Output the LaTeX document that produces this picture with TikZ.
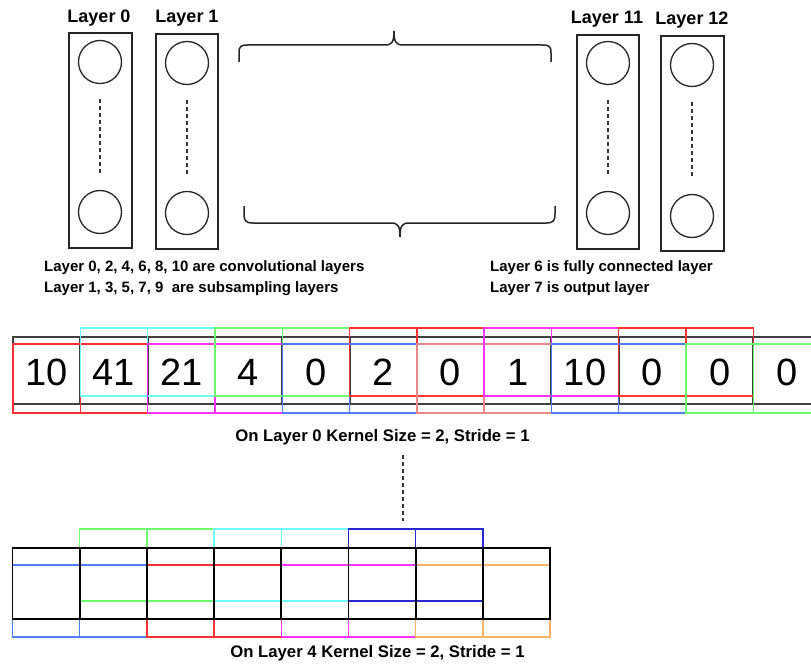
\documentclass[tikz,border=0pt]{standalone}
\usepackage{fontspec}
\setmainfont{Liberation Sans}
\begin{document}
\begin{tikzpicture}[x=1pt,y=-1pt,
  layerbox/.style={draw=black!85,line width=1.5pt},
  neuron/.style={circle,draw=black!85,line width=1.3pt,minimum size=43pt,inner sep=0pt},
  dots/.style={draw=black!80,line width=1.4pt,dash pattern=on 4pt off 3pt},
  title/.style={font=\bfseries\fontsize{18}{20}\selectfont,inner sep=0pt},
  note/.style={font=\bfseries\fontsize{15}{17}\selectfont,inner sep=0pt,anchor=west},
  caption/.style={font=\bfseries\fontsize{16.7}{18}\selectfont,inner sep=0pt},
  brace/.style={draw=black!85,line width=1.5pt},
  num/.style={font=\fontsize{38}{40}\selectfont,inner sep=0pt},
  win/.style={line width=1.4pt}
]
\definecolor{cred}{RGB}{255,50,50}
\definecolor{ccyan}{RGB}{110,255,255}
\definecolor{cmag}{RGB}{255,50,255}
\definecolor{cgreen}{RGB}{110,255,110}
\definecolor{cblue}{RGB}{80,125,255}
\definecolor{csalmon}{RGB}{240,135,135}
\definecolor{cdblue}{RGB}{40,40,210}
\definecolor{corange}{RGB}{255,180,100}
\useasboundingbox (0,0) rectangle (811,666);
\clip (0,0) rectangle (811,666);
\fill[white] (0,0) rectangle (811,666);

% ---- layers ----
\node[layerbox,minimum width=63pt,minimum height=215pt,inner sep=0pt] (L0) at (100.5,140.5) {};
\node[layerbox,minimum width=62pt,minimum height=215pt,inner sep=0pt] (L1) at (187,141.5) {};
\node[layerbox,minimum width=62pt,minimum height=214pt,inner sep=0pt] (L11) at (608,142) {};
\node[layerbox,minimum width=63pt,minimum height=215pt,inner sep=0pt] (L12) at (692.5,143.5) {};
\node[neuron] (n0a) at (100,62) {};
\node[neuron] (n0b) at (100,212) {};
\node[neuron] (n1a) at (187,63) {};
\node[neuron] (n1b) at (187,213) {};
\node[neuron] (n11a) at (608,63) {};
\node[neuron] (n11b) at (608,213) {};
\node[neuron] (n12a) at (692,65) {};
\node[neuron] (n12b) at (692,216) {};
\draw[dots,shorten <=15pt,shorten >=15pt] (n0a.south) -- (n0b.north);
\draw[dots,shorten <=15pt,shorten >=15pt] (n1a.south) -- (n1b.north);
\draw[dots,shorten <=15pt,shorten >=15pt] (n11a.south) -- (n11b.north);
\draw[dots,shorten <=15pt,shorten >=15pt] (n12a.south) -- (n12b.north);
\node[title] (t0) at (99,18) {Layer 0};
\node[title] (t1) at (187,18) {Layer 1};
\node[title] (t11) at (607,19) {Layer 11};
\node[title] (t12) at (692,20) {Layer 12};

% ---- braces ----
\draw[brace] (239,62) -- (239,53) .. controls (239,46) and (241,45) .. (248,45) -- (385,45)
  .. controls (392,45) and (394,42) .. (394,31) .. controls (394,42) and (396,45) .. (403,45)
  -- (542,45) .. controls (549,45) and (551,46) .. (551,53) -- (551,62);
\draw[brace] (244,206) -- (244,214) .. controls (244,221) and (246,223) .. (253,223) -- (391,223)
  .. controls (398,223) and (400,226) .. (400,237) .. controls (400,226) and (402,223) .. (409,223)
  -- (546,223) .. controls (553,223) and (555,221) .. (555,214) -- (555,206);

% ---- notes ----
\node[note] (m1) at (44,268) {Layer 0, 2, 4, 6, 8, 10 are convolutional layers};
\node[note] (m2) at (44,289) {Layer 1, 3, 5, 7, 9\ \ are subsampling layers};
\node[note] (m3) at (490,268) {Layer 6 is fully connected layer};
\node[note] (m4) at (490,289) {Layer 7 is output layer};

% ---- layer 0 array ----
\foreach \k in {0,...,11} {
  \draw[black!75,line width=2pt] ({13+67.3*\k},337) rectangle ({13+67.3*(\k+1)},404);
}
\foreach \c [count=\i from 0] in {cred,ccyan,cmag,cgreen,cblue,cred,csalmon,cmag,cblue,cred,cgreen} {
  \pgfmathsetmacro{\xa}{13+67.3*\i}
  \pgfmathsetmacro{\xb}{13+67.3*(\i+2)}
  \pgfmathsetmacro{\xm}{13+67.3*(\i+1)}
  \ifodd\i
    \draw[win,\c] (\xa,328) rectangle (\xb,396);
    \draw[win,\c] (\xm,328) -- (\xm,396);
  \else
    \draw[win,\c] (\xa,344) rectangle (\xb,413);
    \draw[win,\c] (\xm,344) -- (\xm,413);
  \fi
}
\foreach \v [count=\i from 0] in {10,41,21,4,0,2,0,1,10,0,0,0} {
  \node[num] (v\i) at ({13+67.3*\i+33.65},372) {\v};
}
\node[caption] (cap0) at (382.5,437) {On Layer 0 Kernel Size = 2, Stride = 1};

% ---- layer 4 array ----
\foreach \c [count=\i from 0] in {cblue,cgreen,cred,ccyan,cmag,cdblue,corange} {
  \pgfmathsetmacro{\xa}{12.5+67.2*\i}
  \pgfmathsetmacro{\xb}{12.5+67.2*(\i+2)}
  \pgfmathsetmacro{\xm}{12.5+67.2*(\i+1)}
  \ifodd\i
    \draw[win,\c] (\xa,529) rectangle (\xb,601);
    \draw[win,\c] (\xm,529) -- (\xm,601);
  \else
    \draw[win,\c] (\xa,565) rectangle (\xb,637);
    \draw[win,\c] (\xm,565) -- (\xm,637);
  \fi
}
\draw[black,line width=1.8pt] (12.5,548) rectangle (550.1,619);
\foreach \k in {1,...,7} {
  \draw[black,line width=1.8pt] ({12.5+67.2*\k},548) -- ({12.5+67.2*\k},619);
}
\coordinate (dtop) at (403,455);
\coordinate (dbot) at (403,521);
\draw[dots] (dtop) -- (dbot);
\node[caption] (cap4) at (377.5,653) {On Layer 4 Kernel Size = 2, Stride = 1};
\end{tikzpicture}
\end{document}
